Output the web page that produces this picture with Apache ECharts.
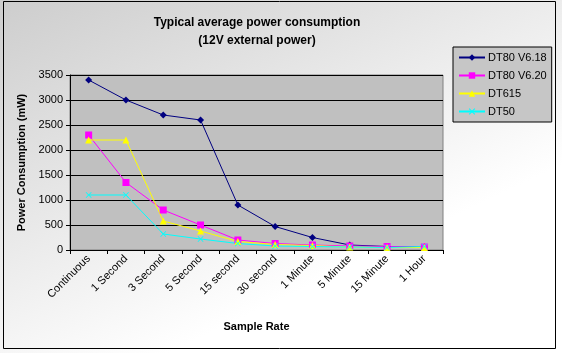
<!DOCTYPE html>
<html>
<head>
<meta charset="utf-8">
<script src="https://cdn.jsdelivr.net/npm/echarts@6/dist/echarts.min.js"></script>
<style>
  html, body { margin: 0; padding: 0; background: #fff; }
  #chart { width: 562px; height: 353px; }
</style>
</head>
<body>
<div id="chart"></div>
<script>
// data
const categories = ["Continuous", "1 Second", "3 Second", "5 Second", "15 second", "30 second", "1 Minute", "5 Minute", "15 Minute", "1 Hour"];
const dt80v618 = [3400, 3000, 2700, 2600, 900, 470, 250, 100, 70, 60];
const dt80v620 = [2300, 1350, 800, 500, 200, 130, 100, 80, 70, 60];
const dt615 = [2200, 2200, 580, 380, 170, 110, 90, 60, 50, 50];
const dt50 = [1100, 1100, 320, 220, 130, 80, 70, 60, 50, 70];

const font = "Liberation Sans, Arial, sans-serif";
const xMark = "path://M1,0L5,4L9,0L10,1L6,5L10,9L9,10L5,6L1,10L0,9L4,5L0,1Z";

function line(name, data, color, symbol, size) {
  return {
    name: name,
    type: "line",
    data: data,
    symbol: symbol,
    symbolSize: size,
    lineStyle: { color: color, width: 1 },
    itemStyle: { color: color },
    animation: false
  };
}

const option = {
  backgroundColor: new echarts.graphic.LinearGradient(0, 0, 0.3, 1, [
    { offset: 0, color: "#cdcdcd" },
    { offset: 1, color: "#ffffff" }
  ]),
  title: {
    text: "Typical average power consumption\n(12V external power)",
    left: 257,
    top: 14,
    padding: 0,
    textAlign: "center",
    textStyle: { fontFamily: font, fontSize: 12, fontWeight: "bold", color: "#000", lineHeight: 18 }
  },
  legend: {
    orient: "vertical",
    left: 453,
    top: 47,
    itemGap: 7,
    itemWidth: 26,
    itemHeight: 8,
    padding: [5, 5, 5, 5],
    backgroundColor: "#c6c6c6",
    borderColor: "#000",
    borderWidth: 1,
    borderRadius: 0,
    textStyle: { fontFamily: font, fontSize: 11, color: "#000", padding: [0, 0, 0, -2] },
    data: ["DT80 V6.18", "DT80 V6.20", "DT615", "DT50"]
  },
  grid: { left: 70, right: 119, top: 75, bottom: 103, show: true, backgroundColor: "#c0c0c0", borderColor: "#808080", borderWidth: 1 },
  xAxis: {
    type: "category",
    data: categories,
    boundaryGap: true,
    name: "Sample Rate",
    nameLocation: "middle",
    nameGap: 71,
    nameTextStyle: { fontFamily: font, fontSize: 11, fontWeight: "bold", color: "#000" },
    axisLine: { lineStyle: { color: "#000" } },
    axisTick: { show: true, alignWithLabel: false, length: 4, lineStyle: { color: "#000" } },
    axisLabel: { rotate: 45, fontFamily: font, fontSize: 11, color: "#000", margin: 7, interval: 0 },
    splitLine: { show: false }
  },
  yAxis: {
    type: "value",
    min: 0,
    max: 3500,
    interval: 500,
    name: "Power Consumption (mW)",
    nameLocation: "middle",
    nameGap: 37,
    nameTextStyle: { fontFamily: font, fontSize: 11, fontWeight: "bold", color: "#000" },
    axisLine: { show: true, lineStyle: { color: "#000" } },
    axisTick: { show: true, length: 4, lineStyle: { color: "#000" } },
    axisLabel: { fontFamily: font, fontSize: 11, color: "#000", margin: 7, formatter: (v) => String(v) },
    splitLine: { show: true, lineStyle: { color: "#000", width: 1 } }
  },
  series: [
    line("DT80 V6.18", dt80v618, "#000080", "diamond", 7),
    line("DT80 V6.20", dt80v620, "#ff00ff", "rect", 7),
    line("DT615", dt615, "#ffff00", "triangle", 7),
    line("DT50", dt50, "#00ffff", xMark, 6)
  ],
  graphic: [
    {
      type: "rect",
      shape: { x: 3.5, y: 1.5, width: 552, height: 347 },
      style: { fill: null, stroke: "#000", lineWidth: 1 },
      silent: true
    }
  ]
};

const myChart = echarts.init(document.getElementById("chart"));
myChart.setOption(option);
</script>
</body>
</html>
